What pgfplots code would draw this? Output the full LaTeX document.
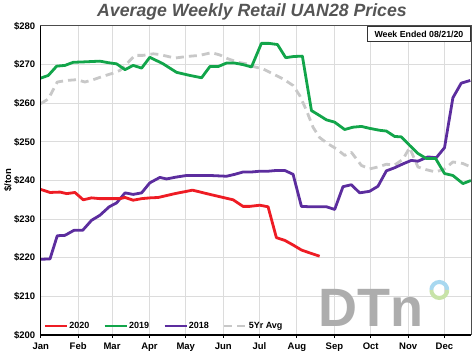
\documentclass[border=0pt]{standalone}
\usepackage{fontspec}
\setmainfont{Liberation Sans}
\usepackage{pgfplots}
\pgfplotsset{compat=1.18}
\definecolor{c2020}{HTML}{EE1C24}
\definecolor{c2019}{HTML}{12A54A}
\definecolor{c2018}{HTML}{5C2D9E}
\definecolor{c5yr}{HTML}{C8C8C8}
\definecolor{gridc}{HTML}{DCDCDC}
\definecolor{titlec}{HTML}{555555}
\definecolor{dtngray}{HTML}{ADADAD}
\definecolor{dtnblue}{HTML}{A8D8F0}
\definecolor{dtngreen}{HTML}{C8E3A8}
\tikzset{
  s2020/.style={c2020, line width=2.8pt, line join=round},
  s2019/.style={c2019, line width=2.8pt, line join=round},
  s2018/.style={c2018, line width=2.8pt, line join=round},
  s5yr/.style={c5yr, line width=2.8pt, line join=round, dash pattern=on 8pt off 5pt},
}
\begin{document}
\begin{tikzpicture}
\path[use as bounding box] (-40.7pt,-20pt) rectangle (433.3pt,335pt);
\begin{axis}[
  at={(0,0)}, anchor=south west,
  scale only axis, width=430.3pt, height=309pt,
  xmin=0, xmax=356, ymin=200, ymax=280,
  xtick={0,31,59,90,120,151,181,212,243,273,304,334},
  xticklabels={Jan,Feb,Mar,Apr,May,Jun,Jul,Aug,Sep,Oct,Nov,Dec},
  ytick={200,210,...,280},
  yticklabel={\$\pgfmathprintnumber{\tick}},
  /pgf/number format/assume math mode=true,
  ticklabel style={font=\fontsize{9.5}{10}\selectfont\bfseries},
  yticklabel style={xshift=-2pt},
  xticklabel style={yshift=-1pt},
  grid=major, major grid style={gridc, line width=1pt},
  axis line style={draw=black!70, line width=1pt},
  xtick pos=left, ytick pos=left,
  xtick align=outside,
  major tick length=3pt,
  x tick style={black, line width=1pt},
  y tick style={draw=none},
  legend image code/.code={\draw[#1] (0pt,0pt) -- (22pt,0pt);},
  legend style={draw=none, fill=none, at={(0,0.029)}, anchor=west, xshift=2.6pt,
    inner sep=0pt, nodes={inner sep=1pt}, font=\fontsize{9}{10}\selectfont\bfseries,
    /tikz/every even column/.append style={column sep=13pt}},
  legend columns=4,
  legend cell align=left,
]
\addlegendimage{s2020}\addlegendentry{2020}
\addlegendimage{s2019}\addlegendentry{2019}
\addlegendimage{s2018}\addlegendentry{2018}
\addlegendimage{s5yr}\addlegendentry{5Yr Avg}

% 5 year average
\addplot[s5yr, forget plot] coordinates {
(0,259.9) (6.3,261.1) (13.7,265.5) (21.5,265.9) (29.8,266.1) (36.6,265.5)
(43.5,266.1) (51.7,267.0) (60,267.8) (65.5,268.5) (72.4,270.6) (77.9,272.4)
(84.8,272.4) (93.1,272.8) (98.6,272.6) (111,271.7) (120.7,272.1) (131.7,272.4)
(141.3,273.1) (148.2,272.5) (155,271.5) (163.3,270.6) (170.2,270.2) (177.1,269.4)
(184,268.9) (192.2,267.6) (200.5,266.3) (208.8,264.6) (214.3,262.0) (219.8,258.2)
(225.3,253.8) (230.8,251.1) (237.7,249.5) (244.6,248.2) (251.5,246.5) (257,247.3)
(265.3,243.9) (272.1,243.0) (279,243.5) (286,244.2) (292.8,244.0) (299.7,245.5)
(305.2,248.5) (312.1,243.5) (319,242.8) (326.7,242.2) (334.1,243.0) (341,244.8)
(349.3,244.4) (355.9,243.5)
};
% 2018
\addplot[s2018, forget plot] coordinates {
(0,219.6) (7.7,219.7) (13.7,225.7) (20.1,225.8) (27.5,227.1) (34.7,227.1)
(42.1,229.7) (49,231.0) (56.7,233.2) (62.8,234.2) (69.8,236.8) (76.5,236.4)
(83.5,236.8) (90.3,239.4) (98.6,240.8) (104.1,240.4) (112.4,240.9) (120.7,241.3)
(131.7,241.3) (140,241.3) (153.7,241.1) (160.6,241.6) (167.4,242.2) (174.4,242.2)
(181.2,242.4) (188.1,242.4) (195,242.6) (201.9,242.6) (208.8,241.6) (215.7,233.3)
(222.6,233.2) (230.8,233.2) (236.4,233.2) (243.2,232.5) (250.1,238.4) (257,238.9)
(263.9,236.8) (272.1,237.2) (279,238.5) (286,242.5) (292.8,243.3) (299.7,244.3)
(306.6,245.2) (312.1,245.0) (320.3,246.1) (327.3,245.9) (334.1,248.5) (341,261.4)
(347.9,265.2) (355.4,265.9)
};
% 2019
\addplot[s2019, forget plot] coordinates {
(0,266.5) (6.3,267.2) (13.2,269.6) (20.1,269.8) (26.9,270.6) (35.2,270.7)
(42.1,270.8) (49,270.9) (55.9,270.5) (62.8,270.2) (69.8,268.7) (76.5,269.8)
(83.5,269.1) (90.3,271.9) (101.3,270.2) (112.4,268.0) (123.4,267.2) (133.1,266.6)
(140,269.5) (146.8,269.5) (153.7,270.4) (160.6,270.4) (167.4,270.0) (174.4,269.4)
(182.6,275.5) (188.9,275.5) (195.9,275.2) (202.7,271.8) (209.3,272.1) (216.5,272.2)
(224,258.1) (230.8,256.8) (236.4,255.7) (243.2,255.1) (251.5,253.2) (258.3,253.8)
(265.3,254.0) (272.1,253.5) (280.4,253.0) (286,252.8) (292.8,251.4) (298.3,251.3)
(305.2,249.1) (312.1,247.0) (319,245.7) (326.7,245.7) (334.1,241.8) (341,241.3)
(349.3,239.2) (355.9,240.0)
};
% 2020
\addplot[s2020, forget plot] coordinates {
(0,237.7) (7.7,236.9) (16,237.0) (21.5,236.6) (28.3,236.9) (35.2,235.0)
(42.1,235.5) (49,235.3) (57.3,235.3) (65.5,235.3) (69.8,235.6) (76.5,234.9)
(83.5,235.3) (90.3,235.5) (97.2,235.6) (111,236.6) (125.6,237.5) (140,236.4)
(149.6,235.7) (159.2,235.0) (167.4,233.3) (173,233.3) (181.2,233.6) (188.1,233.2)
(195,225.2) (201.9,224.5) (208.8,223.3) (215.7,222.0) (224,221.1) (230.8,220.4)
};
\end{axis}
\draw[black, line width=1.3pt] (0,309pt) -- (0,0) -- (430.3pt,0);
% DTN logo
\node[anchor=base west, inner sep=0pt, text=dtngray, font=\fontsize{54}{54}\selectfont\bfseries] at (278pt,8pt) {DTn};
\draw[dtnblue, line width=4pt] (406.6pt,45pt) arc (0:180:8pt);
\draw[dtngreen, line width=4pt] (390.6pt,45pt) arc (180:360:8pt);
% labels
\node[rotate=90, font=\fontsize{9.5}{10}\selectfont\bfseries] at (-32.7pt,154.5pt) {\$/ton};
\node[font=\fontsize{17.7}{18}\selectfont\bfseries\itshape, text=titlec] at (211.3pt,323pt) {Average Weekly Retail UAN28 Prices};
\node[draw=black!80, line width=1.1pt, fill=white, anchor=north east, minimum width=103pt, minimum height=15pt, inner sep=0pt, font=\fontsize{8.8}{10}\selectfont\bfseries] at (430.3pt,309pt) {Week Ended 08/21/20};
\end{tikzpicture}
\end{document}
